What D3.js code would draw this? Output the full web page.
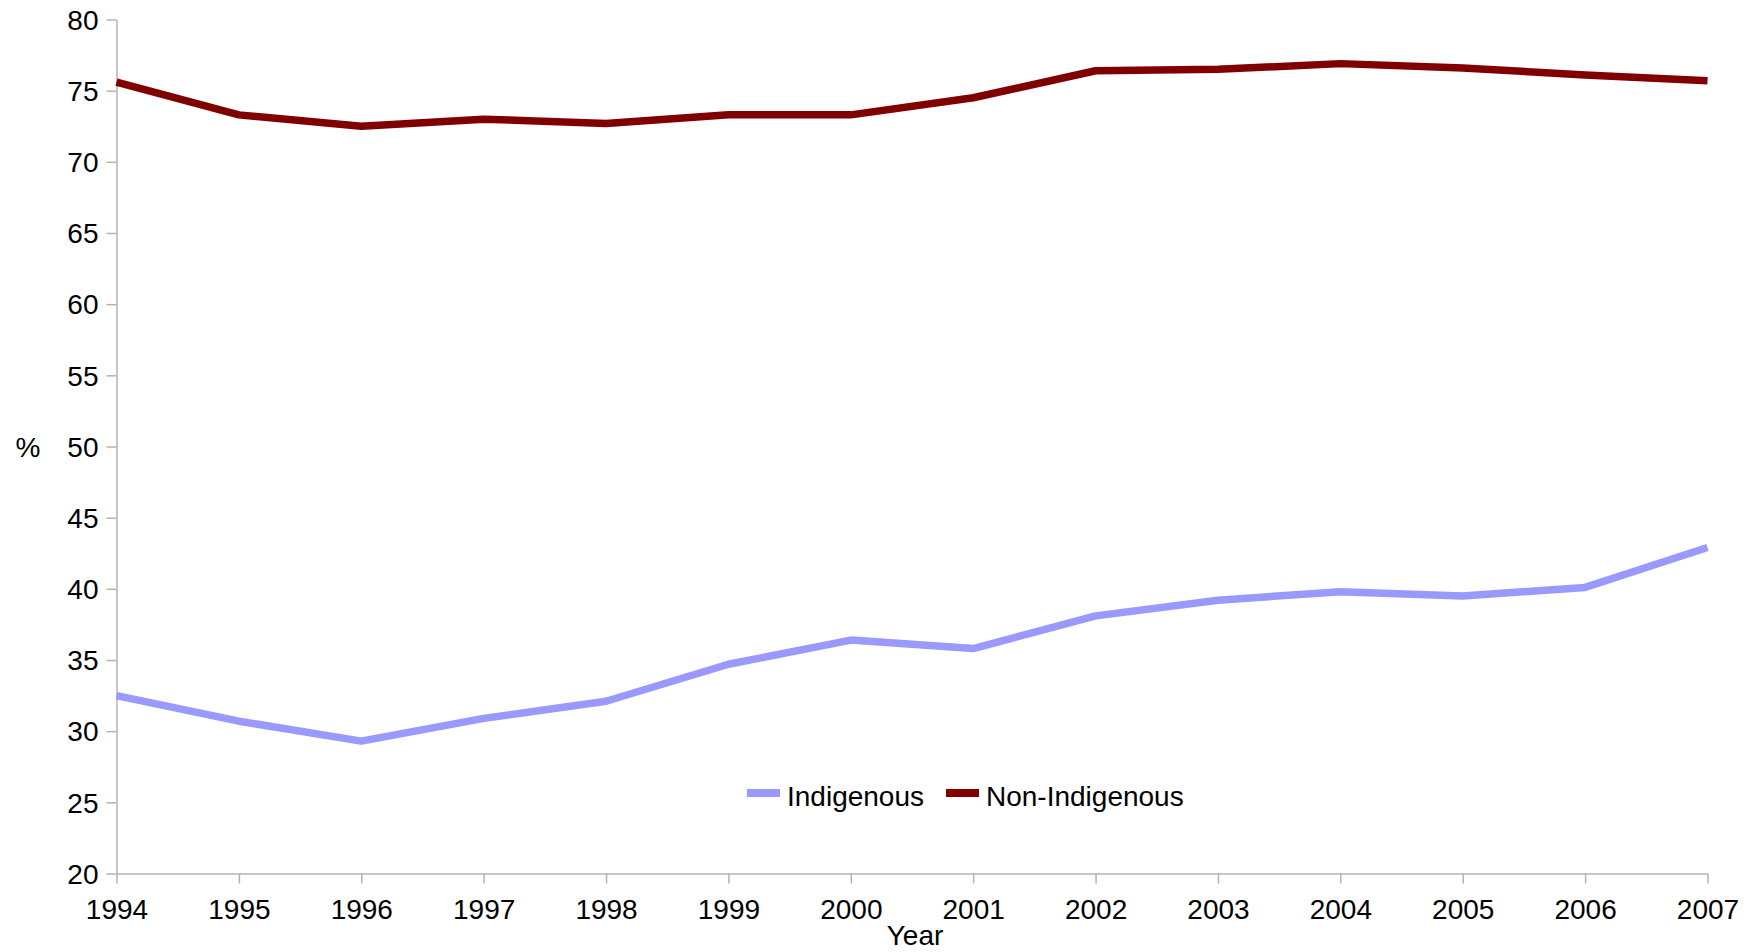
<!DOCTYPE html>
<html>
<head>
<meta charset="utf-8">
<script src="https://cdn.jsdelivr.net/npm/d3@7"></script>
<style>
  body { margin: 0; background: #fff; }
  svg text { font-family: "Liberation Sans", Arial, sans-serif; fill: #000; }
</style>
</head>
<body>
<svg id="chart"></svg>
<script>
'use strict';

// Data
const years = [1994, 1995, 1996, 1997, 1998, 1999, 2000, 2001, 2002, 2003, 2004, 2005, 2006, 2007];
const indigenous = [32.5, 30.7, 29.3, 30.9, 32.1, 34.7, 36.4, 35.8, 38.1, 39.2, 39.8, 39.5, 40.1, 42.9];
const nonIndigenous = [75.6, 73.3, 72.5, 73.0, 72.7, 73.3, 73.3, 74.5, 76.4, 76.5, 76.9, 76.6, 76.1, 75.7];
const yTicks = [20, 25, 30, 35, 40, 45, 50, 55, 60, 65, 70, 75, 80];
const seriesNames = ['Indigenous', 'Non-Indigenous'];
const seriesColors = ['#9999ff', '#800000'];

const W = 1754, H = 952;
const margin = {top: 19.5, right: 46.5, bottom: 78.5, left: 116.5};
const width = W - margin.left - margin.right,
  height = H - margin.top - margin.bottom;

const svg = d3.select('#chart')
  .attr('width', W)
  .attr('height', H);

const g = svg.append('g')
  .attr('transform', `translate(${margin.left},${margin.top})`);

const x = d3.scaleLinear()
  .domain([d3.min(years), d3.max(years)])
  .range([0, width]);

const y = d3.scaleLinear()
  .domain([20, 80])
  .range([height, 0]);

// Axes
const xAxis = g.append('g')
  .attr('transform', `translate(0,${height})`)
  .call(d3.axisBottom(x).tickValues(years).tickFormat(d3.format('d')).tickSize(10).tickSizeOuter(0));

const yAxis = g.append('g')
  .call(d3.axisLeft(y).tickValues(yTicks).tickSize(10).tickSizeOuter(0));

[xAxis, yAxis].forEach(ax => {
  ax.selectAll('path, line').attr('stroke', '#b3b3b3').attr('stroke-width', 1.5);
  ax.selectAll('text').style('font-size', '28px').attr('fill', '#000');
});
xAxis.selectAll('text').attr('dy', '1.16em');
yAxis.selectAll('text').attr('x', -18).attr('dy', '0.35em');

// Axis titles
svg.append('text')
  .attr('x', 915)
  .attr('y', 945)
  .attr('text-anchor', 'middle')
  .style('font-size', '28px')
  .text('Year');

svg.append('text')
  .attr('x', 28)
  .attr('y', 457)
  .attr('text-anchor', 'middle')
  .style('font-size', '28px')
  .text('%');

// Lines
const line = d3.line()
  .x((d, i) => x(years[i]))
  .y(d => y(d));

[indigenous, nonIndigenous].forEach((vals, i) => {
  g.append('path')
    .datum(vals)
    .attr('fill', 'none')
    .attr('stroke', seriesColors[i])
    .attr('stroke-width', 7.5)
    .attr('stroke-linejoin', 'round')
    .attr('d', line);
});

// Legend
const legend = svg.append('g').attr('transform', 'translate(747,793)');
const legendX = [0, 199];
seriesNames.forEach((name, i) => {
  const item = legend.append('g').attr('transform', `translate(${legendX[i]},0)`);
  item.append('rect')
    .attr('x', 0)
    .attr('y', -4)
    .attr('width', 33)
    .attr('height', 8)
    .attr('fill', seriesColors[i]);
  item.append('text')
    .attr('x', 40)
    .attr('y', 13)
    .style('font-size', '28px')
    .text(name);
});
</script>
</body>
</html>
